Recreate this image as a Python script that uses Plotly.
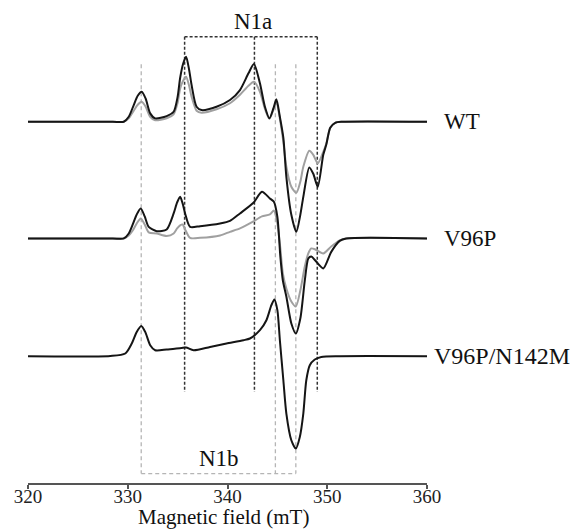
import numpy as np
import plotly.graph_objects as go

# ---------------- data ----------------
labels = ["WT", "V96P", "V96P/N142M"]
offsets = [0.0, -116.6, -234.3]          # vertical stacking offsets (a.u.)

wt_field = [320.0, 328.5, 329.6, 330.1, 330.6, 331.0, 331.4, 331.8, 332.25, 332.75, 333.9, 334.6, 335.0,
            335.25, 335.55, 335.85, 336.15, 336.4, 336.9, 337.4, 338.9, 340.25, 341.25, 342.1, 342.65,
            343.25, 343.75, 344.2, 344.6, 344.9, 345.25, 345.6, 345.9, 346.4, 346.9, 347.3, 347.6,
            348.2, 348.6, 349.05, 349.6, 349.9, 350.3, 350.8, 351.5, 360.0]
wt_black = [0, 0, 0, 5, 16.7, 26, 30, 23, 8.4, 3.4, 5.7, 10, 25,
            43.7, 58, 65, 52, 36.7, 15, 11.7, 15, 21.7, 31.7, 48.4, 57.7,
            38.4, 15, 3.4, 13.4, 22.4, 5, -16, -55, -93, -110, -93, -75,
            -45.6, -52, -65, -33, -23, -6, -1, 0, 0]
wt_gray = [0, 0, 0, 3.5, 11, 17, 20, 15, 5, 1.5, 3.5, 7.5, 19,
           33, 41, 45, 36, 25, 11, 9, 12.5, 18.5, 27, 36, 40,
           30, 13, 3, 12, 20, 3, -20, -45, -65, -71, -60, -45,
           -29, -33, -41.6, -30, -22, -6, -1, 0, 0]

v96p_field = [320.0, 328.5, 329.6, 330.1, 330.5, 330.9, 331.3, 331.7, 332.1, 332.9, 333.9, 334.6, 334.95,
              335.25, 335.5, 335.75, 336.25, 337.25, 339.25, 340.25, 341.25, 342.6, 343.45, 344.25,
              344.65, 345.0, 345.3, 345.55, 345.9, 346.4, 346.85, 347.3, 347.75, 348.1, 348.4, 348.8,
              349.6, 350.4, 351.25, 351.9, 360.0]
v96p_black = [0, 0, 0, 5, 14, 24, 30, 22, 11.6, 7.3, 9, 25, 36,
              41.6, 35, 25, 11.6, 12.3, 15, 17.6, 25, 35.6, 46.6, 40,
              36.6, 21.6, -18.4, -42, -58, -85, -95, -80, -42, -20, -18, -22,
              -30, -13.4, -2.4, 0, 0]
v96p_gray = [0, 0, 0, 3, 8, 15, 20, 14, 6, 5, 2.5, 5, 10,
             13, 14, 9, 0.5, 0.6, 3, 6.6, 10, 17, 22, 24,
             28, 15, -10, -35, -50, -63, -68, -52, -28, -15, -10, -11,
             -15, -8, -2, 0, 0]

n142m_field = [320.0, 328.25, 329.75, 330.4, 330.9, 331.35, 331.75, 332.25, 332.75, 333.9, 335.4, 335.85,
               336.6, 338.25, 339.9, 341.6, 342.25, 343.25, 343.9, 344.4, 344.7, 345.0, 345.25, 345.6,
               345.9, 346.4, 346.85, 347.25, 347.6, 347.9, 348.25, 348.75, 349.4, 351.25, 360.0]
n142m_black = [0, 0.3, 2.7, 12.7, 24.3, 30.3, 24.3, 11, 6, 6.7, 8.3, 8.7,
               6, 9.3, 12.7, 16, 17.7, 26, 36, 51, 56.7, 46, 16, -24,
               -57.3, -84, -92.3, -80.7, -57.3, -24, -9, -3.3, -0.7, 0, 0]

# guide lines (magnetic field positions, mT)
n1a_fields = [335.7, 342.7, 349.0]
n1b_fields = [331.35, 344.8, 346.85]

x_ticks = [320, 330, 340, 350, 360]

# ---------------- figure ----------------
FONT = "Liberation Serif"
BLACK = "#151515"
GRAY = "#a0a0a0"

fig = go.Figure()

series = [
    (wt_field, wt_gray, offsets[0], GRAY),
    (wt_field, wt_black, offsets[0], BLACK),
    (v96p_field, v96p_gray, offsets[1], GRAY),
    (v96p_field, v96p_black, offsets[1], BLACK),
    (n142m_field, n142m_black, offsets[2], BLACK),
]
for fx, fy, off, col in series:
    fig.add_trace(go.Scatter(
        x=fx, y=np.array(fy) + off, mode="lines",
        line=dict(color=col, width=2, shape="spline", smoothing=0.7),
        showlegend=False, hoverinfo="skip"))

shapes = []
a_top, a_bot = 85, -270
b_top, b_bot = 57.4, -351.6
dash_a = dict(color="#333333", width=1.5, dash="3px,2px")
dash_b = dict(color="#b5b5b5", width=1.3, dash="4px,3px")
shapes.append(dict(type="line", xref="x", yref="y", x0=n1a_fields[0], x1=n1a_fields[2],
                   y0=a_top, y1=a_top, line=dash_a, layer="below"))
for f in n1a_fields:
    shapes.append(dict(type="line", xref="x", yref="y", x0=f, x1=f, y0=a_top, y1=a_bot,
                       line=dash_a, layer="below"))
shapes.append(dict(type="line", xref="x", yref="y", x0=n1b_fields[0], x1=n1b_fields[2],
                   y0=b_bot, y1=b_bot, line=dash_b, layer="below"))
for f in n1b_fields:
    shapes.append(dict(type="line", xref="x", yref="y", x0=f, x1=f, y0=b_top, y1=b_bot,
                       line=dash_b, layer="below"))

annotations = []
label_xpaper = [1.0378, 1.0378, 1.0128]
label_sizes = [23, 23, 24]
for lab, off, lx, ls in zip(labels, offsets, label_xpaper, label_sizes):
    annotations.append(dict(x=lx, y=off, xref="paper", yref="y", text=lab, showarrow=False,
                            xanchor="left", yanchor="middle",
                            font=dict(family=FONT, size=ls, color="#111111")))
annotations.append(dict(x=342.6, y=100, xref="x", yref="y", text="N1a", showarrow=False,
                        xanchor="center", yanchor="middle",
                        font=dict(family=FONT, size=23, color="#111111")))
annotations.append(dict(x=339.1, y=-336.6, xref="x", yref="y", text="N1b", showarrow=False,
                        xanchor="center", yanchor="middle",
                        font=dict(family=FONT, size=23, color="#111111")))
annotations.append(dict(x=0.49, y=-0.0725, xref="paper", yref="paper", text="Magnetic field (mT)",
                        showarrow=False, xanchor="center", yanchor="middle",
                        font=dict(family=FONT, size=21, color="#111111")))

fig.update_layout(
    width=571, height=522,
    margin=dict(l=19.5, r=151.5, t=0, b=47.3),
    paper_bgcolor="white", plot_bgcolor="white",
    shapes=shapes, annotations=annotations,
    xaxis=dict(range=[320, 360], tickvals=x_ticks, ticktext=[str(t) for t in x_ticks],
               showline=True, linecolor="#555555", linewidth=2,
               ticks="outside", ticklen=4, tickwidth=2, tickcolor="#555555",
               ticklabelstandoff=-9,
               showgrid=False, zeroline=False,
               tickfont=dict(family=FONT, size=19, color="#222222")),
    yaxis=dict(range=[-361, 113.7], visible=False, showgrid=False, zeroline=False),
)

fig.write_html("out.html")
